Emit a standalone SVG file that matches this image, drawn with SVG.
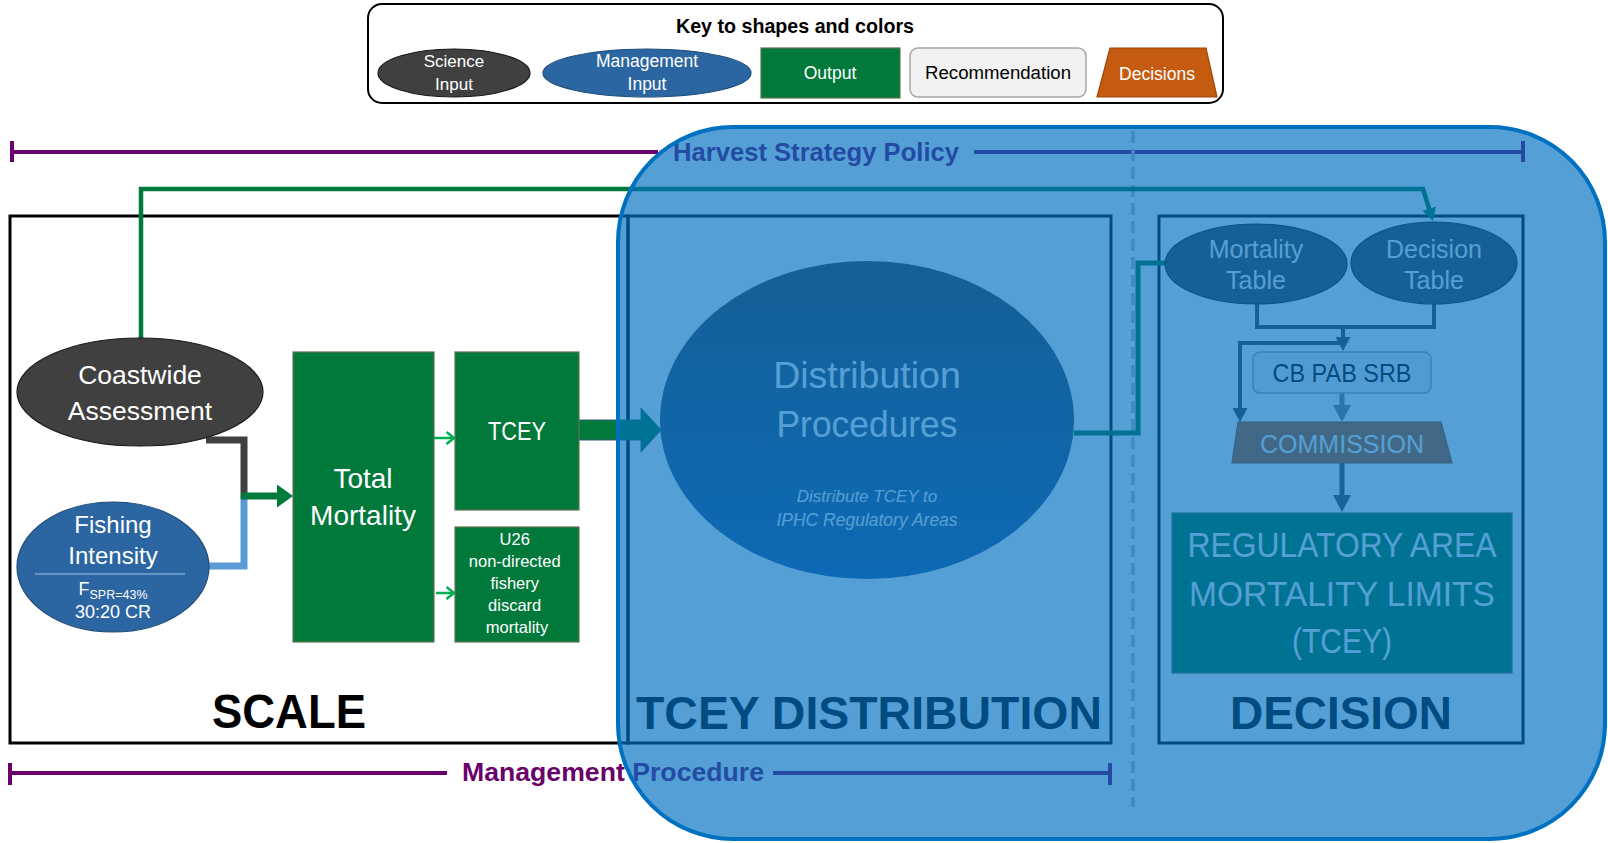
<svg xmlns="http://www.w3.org/2000/svg" width="1608" height="843" viewBox="0 0 1608 843">
<style>
  text { font-family: "Liberation Sans", Arial, sans-serif; }
  .c { text-anchor: middle; }
  .w { fill: #ffffff; }
  .k { fill: #000000; }
  .b { font-weight: bold; }
  .sci { fill: #404040; stroke: #1a1a1a; stroke-width: 1.2; }
  .mgt { fill: #2B66A2; stroke: #1F4E79; stroke-width: 1.2; }
  .out { fill: #00793A; stroke: #5F7350; stroke-width: 1.2; }
  .rec { fill: #F2F2F2; stroke: #A6A6A6; stroke-width: 1.5; }
  .dec { fill: #C55A11; stroke: #9C4709; stroke-width: 1.2; }
  .stage { fill: none; stroke: #000000; stroke-width: 3; }
  .scope line { stroke: #6A006A; stroke-width: 4; }
  .scope text { fill: #6A006A; font-weight: bold; font-size: 26px; text-anchor: middle; }
  .ln { fill: none; stroke-linejoin: miter; stroke-linecap: butt; }
</style>
<defs>
  <marker id="ah-join" markerUnits="userSpaceOnUse" viewBox="0 0 16 23" markerWidth="16" markerHeight="23" refX="1" refY="11.5" orient="auto">
    <path d="M0,0 L16,11.5 L0,23 Z" fill="#00793A"/>
  </marker>
  <marker id="ah-green" markerUnits="userSpaceOnUse" viewBox="0 0 13 14" markerWidth="13" markerHeight="14" refX="1" refY="7" orient="auto">
    <path d="M0,0 L13,7 L0,14 Z" fill="#00793A"/>
  </marker>
  <marker id="ah-dark" markerUnits="userSpaceOnUse" viewBox="0 0 14 15" markerWidth="14" markerHeight="15" refX="1" refY="7.5" orient="auto">
    <path d="M0,0 L14,7.5 L0,15 Z" fill="#404040"/>
  </marker>
  <marker id="ah-dark-l" markerUnits="userSpaceOnUse" viewBox="0 0 17 18" markerWidth="17" markerHeight="18" refX="1" refY="9" orient="auto">
    <path d="M0,0 L17,9 L0,18 Z" fill="#4A4A4A"/>
  </marker>
  <marker id="ah-light" markerUnits="userSpaceOnUse" viewBox="0 0 17 18" markerWidth="17" markerHeight="18" refX="1" refY="9" orient="auto">
    <path d="M0,0 L17,9 L0,18 Z" fill="#7F7F7F"/>
  </marker>
  <marker id="ah-open" markerUnits="userSpaceOnUse" viewBox="0 0 10 14" markerWidth="10" markerHeight="14" refX="8.5" refY="7" orient="auto">
    <path d="M1,1 L8.5,7 L1,13" fill="none" stroke="#00B050" stroke-width="2.5"/>
  </marker>
  <linearGradient id="dist-fill" x1="0" y1="0" x2="0" y2="1">
    <stop offset="0" stop-color="#404040"/>
    <stop offset="1" stop-color="#2A5E9F"/>
  </linearGradient>
</defs>

<rect x="0" y="0" width="1608" height="843" fill="#ffffff"/>

<!-- legend -->
<g id="legend">
  <rect x="368" y="4" width="855" height="99" rx="14" fill="#ffffff" stroke="#000000" stroke-width="2"/>
  <text x="795" y="33" class="c b k" font-size="20" textLength="238" lengthAdjust="spacingAndGlyphs">Key to shapes and colors</text>
  <ellipse cx="454" cy="73" rx="76" ry="24" class="sci"/>
  <text x="454" y="67" class="c w" font-size="17">Science</text>
  <text x="454" y="90" class="c w" font-size="17">Input</text>
  <ellipse cx="647" cy="73" rx="104" ry="24" class="mgt"/>
  <text x="647" y="67" class="c w" font-size="17.5">Management</text>
  <text x="647" y="90" class="c w" font-size="17.5">Input</text>
  <rect x="761" y="48" width="139" height="50" class="out"/>
  <text x="830" y="79" class="c w" font-size="17.5">Output</text>
  <rect x="910" y="48" width="176" height="49" rx="8" class="rec"/>
  <text x="998" y="79" class="c k" font-size="17.5" textLength="146" lengthAdjust="spacingAndGlyphs">Recommendation</text>
  <polygon points="1110,48 1206,48 1217,97 1097,97" class="dec"/>
  <text x="1157" y="80" class="c w" font-size="17.5">Decisions</text>
</g>

<!-- scope brackets -->
<g id="scope-harvest-strategy" class="scope">
  <line x1="12" y1="152" x2="658" y2="152"/>
  <line x1="12" y1="141" x2="12" y2="162"/>
  <text x="816" y="161" textLength="286" lengthAdjust="spacingAndGlyphs">Harvest Strategy Policy</text>
  <line x1="974" y1="152" x2="1523" y2="152"/>
  <line x1="1523" y1="141" x2="1523" y2="162"/>
</g>
<g id="scope-management-procedure" class="scope">
  <line x1="10" y1="773" x2="447" y2="773"/>
  <line x1="10" y1="763" x2="10" y2="785"/>
  <text x="613" y="781" textLength="302" lengthAdjust="spacingAndGlyphs">Management Procedure</text>
  <line x1="773" y1="773" x2="1110" y2="773"/>
  <line x1="1110" y1="763" x2="1110" y2="785"/>
</g>

<!-- stage frames -->
<g id="stage-scale">
  <rect x="10" y="216" width="618" height="527" class="stage"/>
  <text x="289" y="728" class="c b k" font-size="49" textLength="154" lengthAdjust="spacingAndGlyphs">SCALE</text>
</g>
<g id="stage-distribution">
  <rect x="628" y="216" width="483" height="527" class="stage"/>
  <text x="869" y="729" class="c b k" font-size="46" textLength="466" lengthAdjust="spacingAndGlyphs">TCEY DISTRIBUTION</text>
</g>
<g id="stage-decision">
  <rect x="1159" y="216" width="364" height="527" class="stage"/>
  <text x="1341" y="729" class="c b k" font-size="46" textLength="222" lengthAdjust="spacingAndGlyphs">DECISION</text>
</g>
<line id="divider" x1="1133" y1="131" x2="1133" y2="807" stroke="#BFBFBF" stroke-width="3.5" stroke-dasharray="12 6"/>

<!-- connectors -->
<g id="connectors" class="ln">
  <polyline points="141,338 141,189 1423,189 1429.4,209.6" stroke="#00793A" stroke-width="4.5" fill="none" marker-end="url(#ah-green)"/>
  <polyline points="206,440 244,440 244,499" stroke="#404040" stroke-width="7" fill="none"/>
  <polyline points="209,566 244,566 244,496" stroke="#5B9BD5" stroke-width="7" fill="none"/>
  <line x1="241" y1="496" x2="278" y2="496" stroke="#00793A" stroke-width="7" marker-end="url(#ah-join)"/>
  <line x1="434" y1="438" x2="454" y2="438" stroke="#00B050" stroke-width="2.5" marker-end="url(#ah-open)"/>
  <line x1="436" y1="593" x2="454" y2="593" stroke="#00B050" stroke-width="2.5" marker-end="url(#ah-open)"/>
  <polygon points="579,420 641,420 641,408 661,430 641,452 641,440 579,440" fill="#00793A" stroke="#3D5A80" stroke-width="1"/>
  <polyline points="1074,433 1138,433 1138,263 1166,263" stroke="#00793A" stroke-width="5" fill="none"/>
  <polyline points="1257,304 1257,327 1434,327 1434,304" stroke="#404040" stroke-width="4" fill="none"/>
  <line x1="1343" y1="325" x2="1343" y2="338" stroke="#404040" stroke-width="4" marker-end="url(#ah-dark)"/>
  <polyline points="1343,343 1240,343 1240,409" stroke="#404040" stroke-width="4" fill="none" marker-end="url(#ah-dark)"/>
  <line x1="1342" y1="393" x2="1342" y2="406" stroke="#7F7F7F" stroke-width="5" marker-end="url(#ah-light)"/>
  <line x1="1342" y1="463" x2="1342" y2="496" stroke="#4A4A4A" stroke-width="5" marker-end="url(#ah-dark-l)"/>
</g>

<!-- nodes -->
<g id="coastwide-assessment">
  <ellipse cx="140" cy="392" rx="123" ry="54" class="sci"/>
  <text x="140" y="384" class="c w" font-size="26.5">Coastwide</text>
  <text x="140" y="420" class="c w" font-size="26.5">Assessment</text>
</g>
<g id="fishing-intensity">
  <ellipse cx="113" cy="567" rx="96" ry="65" class="mgt"/>
  <text x="113" y="533" class="c w" font-size="24">Fishing</text>
  <text x="113" y="564" class="c w" font-size="24">Intensity</text>
  <line x1="35" y1="574" x2="185" y2="574" stroke="#9DC3E6" stroke-width="1"/>
  <text x="113" y="595" class="c w" font-size="18">F<tspan font-size="12.5" dy="4">SPR=43%</tspan></text>
  <text x="113" y="618" class="c w" font-size="18">30:20 CR</text>
</g>
<g id="total-mortality">
  <rect x="293" y="352" width="141" height="290" class="out"/>
  <text x="363" y="488" class="c w" font-size="28">Total</text>
  <text x="363" y="525" class="c w" font-size="28">Mortality</text>
</g>
<g id="tcey">
  <rect x="455" y="352" width="124" height="158" class="out"/>
  <text x="517" y="440" class="c w" font-size="25.5" textLength="58" lengthAdjust="spacingAndGlyphs">TCEY</text>
</g>
<g id="u26-discard">
  <rect x="455" y="527" width="124" height="115" class="out"/>
  <text class="c w" font-size="16.5">
    <tspan x="517" y="545">U26</tspan>
    <tspan x="517" y="567">non-directed</tspan>
    <tspan x="517" y="589">fishery</tspan>
    <tspan x="517" y="611">discard</tspan>
    <tspan x="517" y="633">mortality</tspan>
  </text>
</g>
<g id="distribution-procedures">
  <ellipse cx="867" cy="420" rx="207" ry="159" fill="url(#dist-fill)"/>
  <text x="867" y="388" class="c w" font-size="37.5">Distribution</text>
  <text x="867" y="437" class="c w" font-size="37.5" textLength="181" lengthAdjust="spacingAndGlyphs">Procedures</text>
  <text x="867" y="502" class="c w" font-size="17" font-style="italic">Distribute TCEY to</text>
  <text x="867" y="526" class="c w" font-size="17.5" font-style="italic">IPHC Regulatory Areas</text>
</g>
<g id="mortality-table">
  <ellipse cx="1256" cy="264" rx="91" ry="40" class="sci"/>
  <text x="1256" y="258" class="c w" font-size="25">Mortality</text>
  <text x="1256" y="289" class="c w" font-size="25">Table</text>
</g>
<g id="decision-table">
  <ellipse cx="1434" cy="263" rx="83" ry="41" class="sci"/>
  <text x="1434" y="258" class="c w" font-size="25">Decision</text>
  <text x="1434" y="289" class="c w" font-size="25">Table</text>
</g>
<g id="advisory-bodies">
  <rect x="1253" y="352" width="178" height="41" rx="7" class="rec"/>
  <text x="1342" y="382" class="c k" font-size="25" textLength="139" lengthAdjust="spacingAndGlyphs">CB PAB SRB</text>
</g>
<g id="commission">
  <polygon points="1238,422 1441,422 1452,463 1232,463" class="dec"/>
  <text x="1342" y="453" class="c w" font-size="25">COMMISSION</text>
</g>
<g id="mortality-limits">
  <rect x="1172" y="513" width="340" height="160" class="out"/>
  <text x="1342" y="557" class="c w" font-size="35" textLength="309" lengthAdjust="spacingAndGlyphs">REGULATORY AREA</text>
  <text x="1342" y="606" class="c w" font-size="35" textLength="306" lengthAdjust="spacingAndGlyphs">MORTALITY LIMITS</text>
  <text x="1342" y="653" class="c w" font-size="35" textLength="100" lengthAdjust="spacingAndGlyphs">(TCEY)</text>
</g>

<!-- harvest strategy policy region, tinted over the later stages -->
<rect id="harvest-strategy-region" x="618" y="127" width="987" height="712" rx="115" ry="115" fill="#0070C0" fill-opacity="0.67" stroke="#0070C0" stroke-width="4"/>
</svg>
